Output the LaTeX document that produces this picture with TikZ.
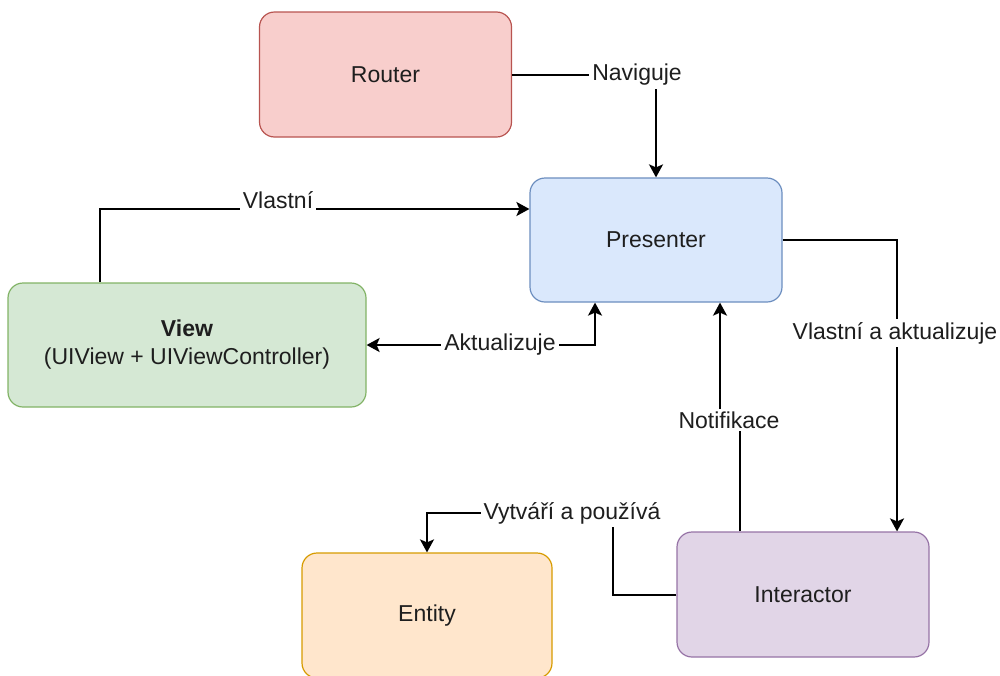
\documentclass[tikz,border=0pt]{standalone}
\usepackage{fontspec}
\setmainfont{Liberation Sans}
\usetikzlibrary{arrows.meta,calc}

\definecolor{routerfill}{HTML}{F8CECC}\definecolor{routerline}{HTML}{B85450}
\definecolor{presfill}{HTML}{DAE8FC}\definecolor{presline}{HTML}{6C8EBF}
\definecolor{viewfill}{HTML}{D5E8D4}\definecolor{viewline}{HTML}{82B366}
\definecolor{interfill}{HTML}{E1D5E7}\definecolor{interline}{HTML}{9673A6}
\definecolor{entfill}{HTML}{FFE6CC}\definecolor{entline}{HTML}{D79B00}
\definecolor{ink}{HTML}{1E1E1E}

\tikzset{
  box/.style={rounded corners=15pt, draw, line width=1.2pt, minimum width=252pt,
    minimum height=125pt, align=center, text=ink,
    font=\fontsize{23}{28}\selectfont, inner sep=0pt},
  tip/.style={Stealth[length=13pt,width=14pt,inset=3pt]},
  conn/.style={line width=2pt, draw=black, -{Stealth[length=13pt,width=14pt,inset=3pt]}},
  both/.style={line width=2pt, draw=black,
    {Stealth[length=13pt,width=14pt,inset=3pt]}-{Stealth[length=13pt,width=14pt,inset=3pt]}},
  lbl/.style={fill=white, text=ink, inner sep=3pt, font=\fontsize{23}{28}\selectfont}
}

\begin{document}
\begin{tikzpicture}[x=1pt, y=-1pt]
\useasboundingbox (0,0) rectangle (1000,675);

% components of the module
\node[box, fill=routerfill, draw=routerline] (R) at (385.5,74.5) {Router};
\node[box, fill=presfill, draw=presline, minimum height=124pt] (P) at (656,240) {Presenter};
\node[box, fill=viewfill, draw=viewline, minimum width=358pt, minimum height=124pt] (V) at (187,345)
  {\textbf{View}\\(UIView + UIViewController)};
\node[box, fill=interfill, draw=interline] (I) at (803,594.5) {Interactor};
\node[box, fill=entfill, draw=entline, minimum width=250pt] (E) at (427,615.5) {Entity};

% relations
\draw[conn] (R.east) -| (P.north);
\node[lbl] (lnav) at (637,75) {Naviguje};

\draw[conn] ([xshift=-87pt]V.north) |- ([yshift=31pt]P.west);
\node[lbl] (lvl) at (278,200) {Vlastní};

\draw[both] (V.east) -| ([xshift=-61pt]P.south);
\node[lbl] (lakt) at (500,345) {Aktualizuje};

\draw[conn] (P.east) -| ([xshift=94pt]I.north);
\node[lbl] (lvla) at (895,333) {Vlastní a aktualizuje};

\draw[conn] ([xshift=-63pt]I.north) -- ++(0,-112) -| ([xshift=64pt]P.south);
\node[lbl] (lnot) at (729,420) {Notifikace};

\draw[conn] (I.west) -- ++(-63,0) -- ++(0,-82) -| (E.north);
\node[lbl] (lvyt) at (572,513) {Vytváří a používá};
\end{tikzpicture}
\end{document}
